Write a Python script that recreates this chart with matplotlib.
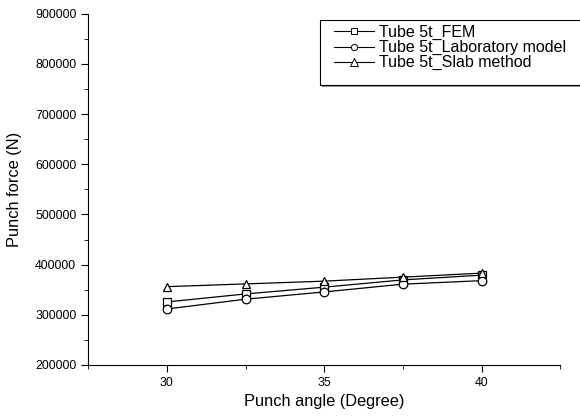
import matplotlib
matplotlib.use("Agg")
import matplotlib.pyplot as plt
from matplotlib.ticker import MultipleLocator
from matplotlib.patches import Rectangle

plt.rcParams["font.family"] = ["Liberation Sans", "DejaVu Sans"]

angle = [30, 32.5, 35, 37.5, 40]
fem = [325500, 341500, 355000, 369500, 379000]
lab_model = [311500, 331000, 345500, 361000, 368000]
slab = [356000, 361500, 367000, 375000, 383000]

W, H = 580, 418
fig = plt.figure(figsize=(W / 100, H / 100), dpi=100)
ax = fig.add_axes([0.152, 0.127, 0.814, 0.84])

style = dict(color="black", lw=0.9, markersize=6.2, markerfacecolor="white",
             markeredgecolor="black", markeredgewidth=0.9)
ax.plot(angle, fem, marker="s", label="Tube 5t_FEM", **style)
ax.plot(angle, lab_model, marker="o", label="Tube 5t_Laboratory model", **style)
ax.plot(angle, slab, marker="^", label="Tube 5t_Slab method", **style)

ax.set_xlim(27.5, 42.5)
ax.set_ylim(200000, 900000)
ax.xaxis.set_major_locator(MultipleLocator(5))
ax.xaxis.set_minor_locator(MultipleLocator(2.5))
ax.yaxis.set_major_locator(MultipleLocator(100000))
ax.yaxis.set_minor_locator(MultipleLocator(50000))

for s in ["top", "right"]:
    ax.spines[s].set_visible(False)
ax.tick_params(which="major", direction="out", length=5, labelsize=8.9)
ax.tick_params(which="minor", direction="out", length=3)

ax.set_xlabel("Punch angle (Degree)", fontsize=11.8, labelpad=4)
ax.set_ylabel("Punch force (N)", fontsize=11.8, labelpad=9)

# legend box (Origin style: runs off the right edge, extra room at bottom)
x0, y0, x1, y1 = 320, 20, 590, 85
shadow = Rectangle(((x0 + 2) / W, (H - y1 - 1.5) / H), (x1 - x0) / W, (y1 - y0) / H,
                   transform=fig.transFigure, facecolor="0.6", edgecolor="none",
                   zorder=4)
frame = Rectangle((x0 / W, (H - y1) / H), (x1 - x0) / W, (y1 - y0) / H,
                  transform=fig.transFigure, facecolor="white", edgecolor="black",
                  lw=0.8, zorder=5)
fig.add_artist(shadow)
fig.add_artist(frame)

leg = fig.legend(loc="upper left", bbox_to_anchor=(334 / W, (H - 25) / H),
                 fontsize=11.5, frameon=False, handlelength=2.5,
                 handletextpad=0.3, borderpad=0, borderaxespad=0,
                 labelspacing=0.0)
leg.set_zorder(6)
for h in leg.legend_handles:
    h.set_markersize(4.5)
    h.set_markeredgewidth(0.7)
    h.set_linewidth(0.8)
leg.legend_handles[2].set_markersize(6)

fig.savefig("out.png", dpi=100)
